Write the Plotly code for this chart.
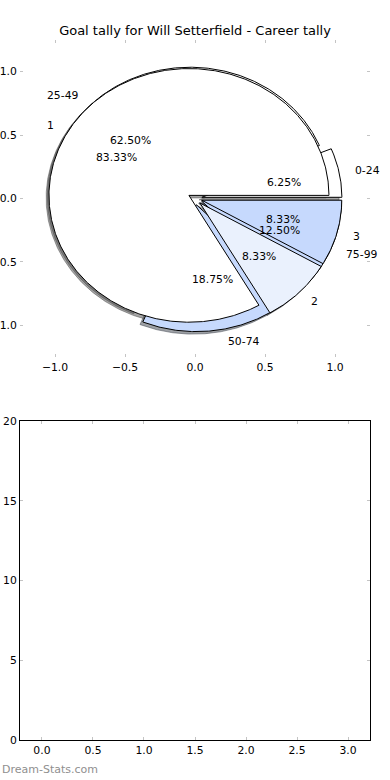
import numpy as np
import plotly.graph_objects as go

# ---------------- data ----------------
range_labels = ["0-24", "25-49", "50-74", "75-99"]
range_values = [1, 10, 3, 2]
range_colors = ["#ffffff", "#ffffff", "#c6d9fd", "#c6d9fd"]

goal_labels = ["1", "2", "3"]
goal_values = [10, 1, 1]
goal_colors = ["#ffffff", "#eaf1fd", "#c6d9fd"]

top_x_ticks = [-1.0, -0.5, 0.0, 0.5, 1.0]
top_y_ticks = [-1.0, -0.5, 0.0, 0.5, 1.0]
bottom_x_ticks = [0.0, 0.5, 1.0, 1.5, 2.0, 2.5, 3.0]
bottom_y_ticks = [0, 5, 10, 15, 20]

title_text = "Goal tally for Will Setterfield - Career tally"
watermark = "Dream-Stats.com"

# ---------------- style ----------------
EXPLODE = 0.05
RADIUS = 1.0
LABEL_DIST = 1.1
PCT_DIST = 0.6
SHADOW = (-0.02, -0.02)
FONT = "DejaVu Sans"
FS = 10.8
TICK_COLOR = "#c4c4c4"


def hex_rgb(h):
    h = h.lstrip("#")
    return [int(h[i:i + 2], 16) for i in (0, 2, 4)]


def wedge_geometry(values):
    total = float(sum(values))
    out = []
    start = 0.0
    for v in values:
        span = 360.0 * v / total
        t1, t2 = start, start + span
        mid = np.deg2rad((t1 + t2) / 2)
        cx = EXPLODE * RADIUS * np.cos(mid)
        cy = EXPLODE * RADIUS * np.sin(mid)
        n = max(3, int(span * 2) + 1)
        th = np.deg2rad(np.linspace(t1, t2, n))
        xs = np.concatenate([[cx], cx + RADIUS * np.cos(th), [cx]])
        ys = np.concatenate([[cy], cy + RADIUS * np.sin(th), [cy]])
        out.append(dict(xs=xs, ys=ys, cx=cx, cy=cy, mid=mid, frac=v / total))
        start = t2
    return out


pies = [
    (range_labels, range_values, range_colors),
    (goal_labels, goal_values, goal_colors),
]
geoms = [wedge_geometry(v) for _, v, _ in pies]

fig = go.Figure()

# shadows (behind every wedge)
for (labels, values, colors), geo in zip(pies, geoms):
    for g, c in zip(geo, colors):
        r, gg, b = [int(0.3 * k) for k in hex_rgb(c)]
        col = f"rgba({r},{gg},{b},0.5)"
        fig.add_trace(go.Scatter(
            x=g["xs"] + SHADOW[0], y=g["ys"] + SHADOW[1], mode="lines",
            fill="toself", fillcolor=col, line=dict(color=col, width=1),
            hoverinfo="skip", showlegend=False, xaxis="x", yaxis="y"))

# wedges
for (labels, values, colors), geo in zip(pies, geoms):
    for g, c, lab in zip(geo, colors, labels):
        fig.add_trace(go.Scatter(
            x=g["xs"], y=g["ys"], mode="lines", fill="toself", fillcolor=c,
            line=dict(color="black", width=1), name=lab,
            hoverinfo="skip", showlegend=False, xaxis="x", yaxis="y"))

annotations = []
for (labels, values, colors), geo in zip(pies, geoms):
    for g, lab in zip(geo, labels):
        lx = g["cx"] + LABEL_DIST * RADIUS * np.cos(g["mid"])
        ly = g["cy"] + LABEL_DIST * RADIUS * np.sin(g["mid"])
        annotations.append(dict(
            x=lx, y=ly, xref="x", yref="y", text=lab, showarrow=False,
            xanchor="left" if lx > 0 else "right", yanchor="middle",
            font=dict(family=FONT, size=FS, color="black")))
        px = g["cx"] + PCT_DIST * RADIUS * np.cos(g["mid"])
        py = g["cy"] + PCT_DIST * RADIUS * np.sin(g["mid"])
        annotations.append(dict(
            x=px, y=py, xref="x", yref="y", text="%.2f%%" % (100 * g["frac"]),
            showarrow=False, xanchor="center", yanchor="middle",
            font=dict(family=FONT, size=FS, color="black")))

# empty second axes (needs a trace to exist)
fig.add_trace(go.Scatter(x=[], y=[], xaxis="x2", yaxis="y2",
                         showlegend=False, hoverinfo="skip"))

annotations.append(dict(
    x=-20 / 350, y=(740 - 769) / 700, xref="paper", yref="paper",
    text=watermark, showarrow=False, xanchor="left", yanchor="middle",
    font=dict(family=FONT, size=11, color="#8f8f8f")))

common_tick = dict(
    ticks="inside", ticklen=3, tickwidth=1, tickcolor=TICK_COLOR,
    showgrid=False, zeroline=False, automargin=False,
    tickfont=dict(family=FONT, size=FS, color="black"),
)

fig.update_layout(
    width=390, height=780,
    margin=dict(l=20, r=20, t=40, b=40, autoexpand=False),
    paper_bgcolor="white", plot_bgcolor="white",
    title=dict(text=title_text, x=0.5, xref="container", xanchor="center",
               y=(780 - 30) / 780, yref="container", yanchor="middle",
               font=dict(family=FONT, size=13, color="black")),
    xaxis=dict(domain=[0, 1], range=[-1.25, 1.25], tickvals=top_x_ticks,
               tickformat=".1f", anchor="y", showline=True,
               linecolor="rgba(0,0,0,0)", mirror="ticks", **common_tick),
    yaxis=dict(domain=[0.547, 1.0], range=[-1.25, 1.25], tickvals=top_y_ticks,
               tickformat=".1f", anchor="x", showline=True,
               linecolor="rgba(0,0,0,0)", mirror="ticks", **common_tick),
    xaxis2=dict(domain=[0, 1], range=[-0.215, 3.215], tickvals=bottom_x_ticks,
                tickformat=".1f", anchor="y2", showline=True,
                linecolor="black", linewidth=1, mirror="ticks", **common_tick),
    yaxis2=dict(domain=[0, 0.4557], range=[0, 20], tickvals=bottom_y_ticks,
                anchor="x2", showline=True, linecolor="black", linewidth=1,
                mirror="ticks", **common_tick),
    annotations=annotations,
)

fig.write_html(
    "out.html",
    config={"displayModeBar": False, "staticPlot": True},
    post_script="document.body.style.margin='0';"
                "document.body.style.overflow='hidden';",
)
